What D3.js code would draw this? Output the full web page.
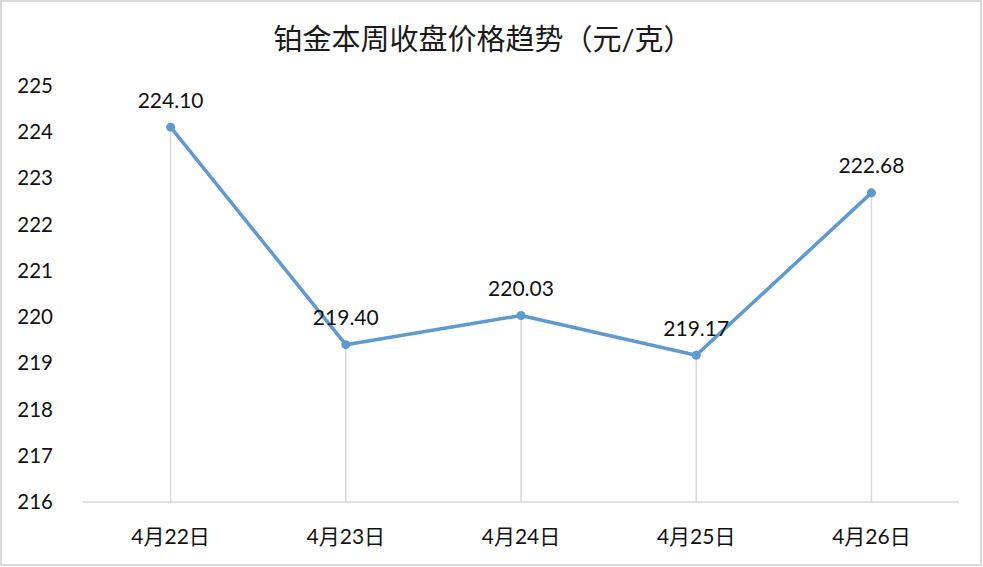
<!DOCTYPE html>
<html><head><meta charset="utf-8">
<script src="https://cdn.jsdelivr.net/npm/d3@7"></script>
<style>body{margin:0;background:#fff}svg{display:block}</style>
</head><body>
<script>
const categories = ["4月22日","4月23日","4月24日","4月25日","4月26日"];
const values = [224.10, 219.40, 220.03, 219.17, 222.68];
const yTicks = [216,217,218,219,220,221,222,223,224,225];
const title = "铂金本周收盘价格趋势（元/克）";

const W = 983, H = 567;
const font = "Lato, 'Noto Sans CJK SC', sans-serif";
const svg = d3.select("body").append("svg").attr("width", W).attr("height", H);
svg.append("rect").attr("x",1).attr("y",1).attr("width",W-3).attr("height",H-3)
  .attr("fill","#fff").attr("stroke","#d9d9d9").attr("stroke-width",2);

const x = d3.scaleBand().domain(categories).range([83, 959]);
const y = d3.scaleLinear().domain([216, 225]).range([502, 85.5]);

svg.append("text").attr("x", 483).attr("y", 50).attr("text-anchor","middle")
  .attr("font-family", font).attr("font-size", 29).attr("fill","#1a1a1a").text(title);

// y labels
svg.append("g").selectAll("text").data(yTicks).join("text")
  .attr("x", 53).attr("y", d => y(d)).attr("dy","0.35em").attr("text-anchor","end")
  .attr("font-family", font).attr("font-size", 20.5).attr("fill","#111").text(d => d);

// x axis line
svg.append("line").attr("x1",83).attr("x2",959).attr("y1",502).attr("y2",502)
  .attr("stroke","#d9d9d9").attr("stroke-width",1.5);

// x labels
svg.append("g").selectAll("text").data(categories).join("text")
  .attr("x", d => x(d) + x.bandwidth()/2).attr("y", 537).attr("dy","0.35em")
  .attr("text-anchor","middle").attr("font-family", font).attr("font-size", 21)
  .attr("fill","#111").text(d => d);

const cx = (d,i) => x(categories[i]) + x.bandwidth()/2;
// drop lines
svg.append("g").selectAll("line").data(values).join("line")
  .attr("x1", cx).attr("x2", cx).attr("y1", d => y(d)).attr("y2", 502)
  .attr("stroke","#d9d9d9").attr("stroke-width",1.5);

svg.append("path").datum(values)
  .attr("d", d3.line().x(cx).y(d => y(d)))
  .attr("fill","none").attr("stroke","#5e9acf").attr("stroke-width",3.5)
  .attr("stroke-linejoin","round");

svg.append("g").selectAll("circle").data(values).join("circle")
  .attr("cx", cx).attr("cy", d => y(d)).attr("r", 4.5).attr("fill","#5e9acf");

svg.append("g").selectAll("text").data(values).join("text")
  .attr("x", cx).attr("y", d => y(d) - 27).attr("dy","0.35em").attr("text-anchor","middle")
  .attr("font-family", font).attr("font-size", 21).attr("fill","#111")
  .text(d => d.toFixed(2));
</script>
</body></html>
